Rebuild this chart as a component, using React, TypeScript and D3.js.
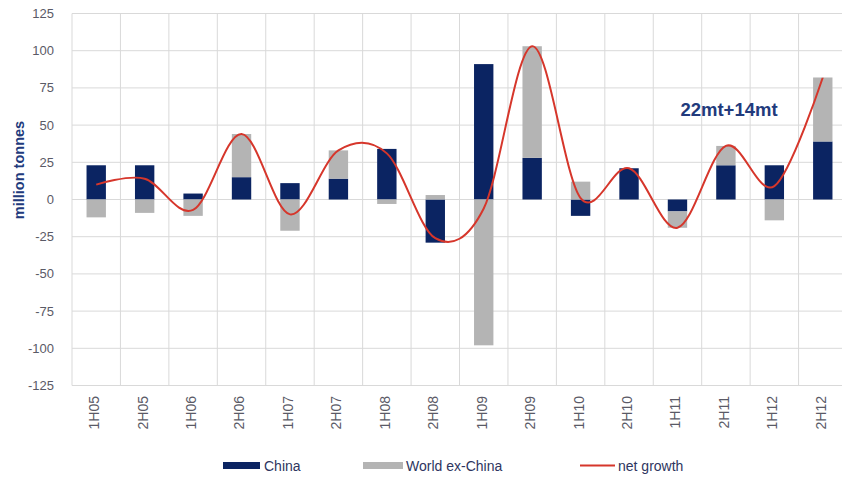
import React from 'react';
import * as d3 from 'd3';

const categories = ['1H05','2H05','1H06','2H06','1H07','2H07','1H08','2H08','1H09','2H09','1H10','2H10','1H11','2H11','1H12','2H12'];
const china = [23, 23, 4, 15, 11, 14, 34, -29, 91, 28, -11, 21, -8, 23, 23, 39];
const worldExChina = [-12, -9, -11, 29, -21, 19, -3, 3, -98, 75, 12, 0, -11, 13, -14, 43];
const netGrowth = [10, 14, -7, 44, -10, 33, 31, -26, -6, 103, 1, 21, -19, 36, 9, 82];
const yTicks = [125, 100, 75, 50, 25, 0, -25, -50, -75, -100, -125];
const legendItems = ['China', 'World ex-China', 'net growth'];
const annotation = '22mt+14mt';

const W = 842, H = 479;
const NAVY = '#0b2462';
const GREY = '#b4b4b4';
const RED = '#d6362b';
const FONT = '"Liberation Sans", Arial, sans-serif';

export default function App() {
  const x = d3.scaleBand<string>().domain(categories).range([72, 847]).paddingInner(0).paddingOuter(0);
  const y = d3.scaleLinear().domain([-125, 125]).range([385.5, 13.5]);
  const bw = x.bandwidth();
  const barW = bw * 0.4;
  const cx = (c: string) => (x(c) as number) + bw / 2;

  const bars: any[] = [];
  categories.forEach((c, i) => {
    let pos = 0, neg = 0;
    [[china[i], NAVY], [worldExChina[i], GREY]].forEach(([v, col]: any, k) => {
      if (v === 0) return;
      let y0, y1;
      if (v > 0) { y0 = pos; y1 = pos + v; pos = y1; }
      else { y0 = neg; y1 = neg + v; neg = y1; }
      bars.push(
        <rect key={c + k} x={cx(c) - barW / 2} width={barW}
          y={y(Math.max(y0, y1))} height={Math.abs(y(y0) - y(y1))} fill={col} />
      );
    });
  });

  const line = d3.line<number>()
    .x((_, i) => cx(categories[i]))
    .y(d => y(d))
    .curve(d3.curveCardinal.tension(0));

  return (
    <svg width={W} height={H} style={{ position: 'absolute', left: 0, top: 0, background: '#fff' }}>
      <rect width={W} height={H} fill="#fff" />
      {yTicks.map(t => (
        <line key={'h' + t} x1={72} x2={847} y1={y(t)} y2={y(t)} stroke="#d9d9d9" strokeWidth={1} />
      ))}
      {categories.map(c => (
        <line key={'v' + c} x1={x(c) as number} x2={x(c) as number} y1={y(125)} y2={y(-125)} stroke="#d9d9d9" strokeWidth={1} />
      ))}
      {yTicks.map(t => (
        <text key={'t' + t} x={54} y={y(t)} dy="0.35em" textAnchor="end" fontFamily={FONT} fontSize={13} fill="#5a5a66">{t}</text>
      ))}
      <text transform={`translate(23.5,170) rotate(-90)`} textAnchor="middle" fontFamily={FONT} fontSize={14.5} fontWeight="bold" fill="#213a7c">million tonnes</text>
      {bars}
      <path d={line(netGrowth) || ''} fill="none" stroke={RED} strokeWidth={2} />
      {categories.map(c => (
        <text key={'x' + c} transform={`translate(${cx(c) - 2},396) rotate(-90)`} dy="0.35em" textAnchor="end" fontFamily={FONT} fontSize={14} fill="#5a5a66">{c}</text>
      ))}
      <text x={729} y={110} dy="0.35em" textAnchor="middle" fontFamily={FONT} fontSize={18.5} fontWeight="bold" fill="#213a7c">{annotation}</text>
      <g fontFamily={FONT} fontSize={14} fill="#2e3560">
        <rect x={223} y={462} width={37} height={7} fill={NAVY} />
        <text x={264} y={466} dy="0.35em">{legendItems[0]}</text>
        <rect x={363} y={462} width={40} height={7} fill={GREY} />
        <text x={406} y={466} dy="0.35em">{legendItems[1]}</text>
        <line x1={580} x2={615} y1={465.5} y2={465.5} stroke={RED} strokeWidth={2} />
        <text x={618} y={466} dy="0.35em">{legendItems[2]}</text>
      </g>
    </svg>
  );
}
